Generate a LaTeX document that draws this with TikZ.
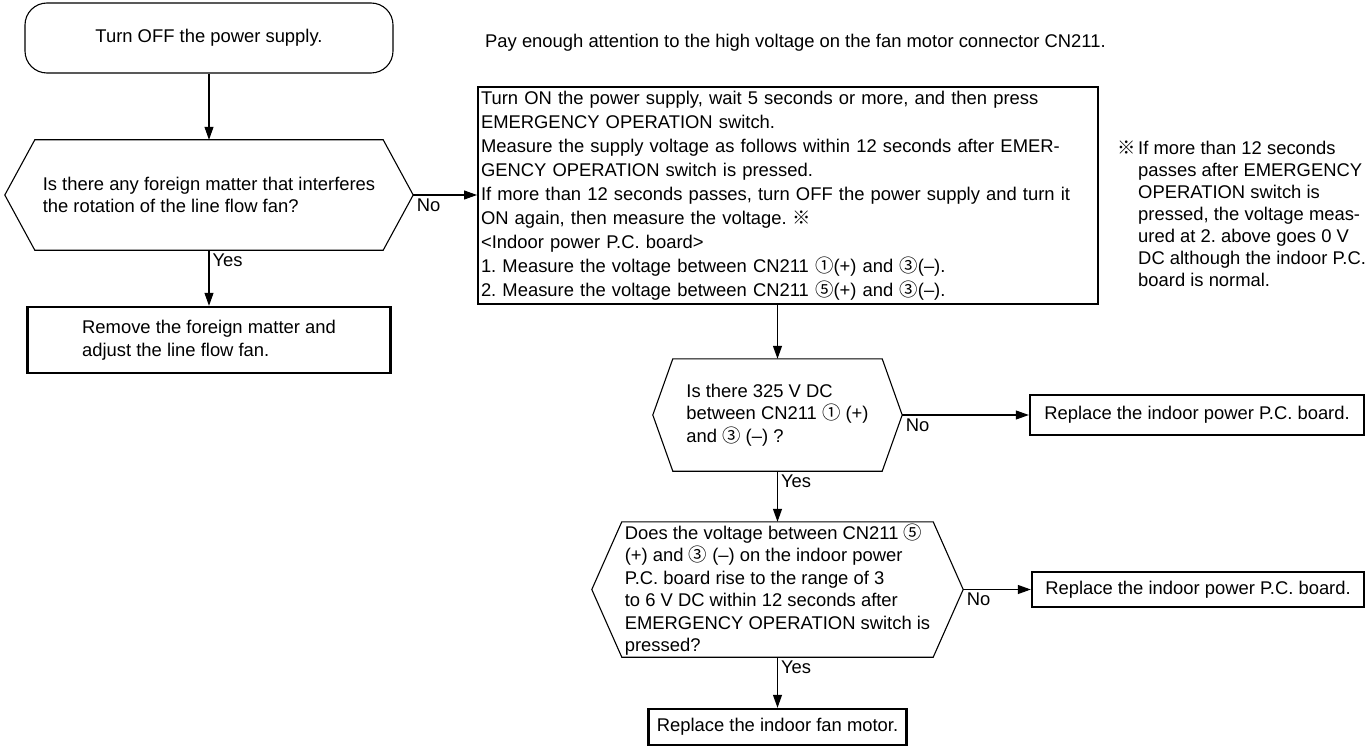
\documentclass[tikz,border=0pt]{standalone}
\usepackage{fontspec}
\setmainfont{Liberation Sans}
\newfontfamily\symb{Noto Sans CJK JP}
\usetikzlibrary{arrows.meta,positioning}
\frenchspacing
\newcommand{\cn}[1]{{\symb #1}}
% outline of a decision node
\newcommand{\hexout}[2]{\draw[line] (#1.west) -- ([xshift=#2pt]#1.north west) -- ([xshift=-#2pt]#1.north east) -- (#1.east) -- ([xshift=-#2pt]#1.south east) -- ([xshift=#2pt]#1.south west) -- cycle;}
\tikzset{
  every node/.style={font=\fontsize{18.4}{22.5}\selectfont},
  line/.style={line width=1.1pt},
  arr/.style={line, -{Triangle[length=13pt,width=9pt]}},
  term/.style={draw, line, rounded corners=22pt, minimum width=368pt, minimum height=70pt},
  dec/.style={align=left, inner sep=0pt},
  act/.style={draw, line width=2.4pt, align=left, inner sep=3pt},
  lab/.style={inner sep=3pt}
}
\begin{document}
\begin{tikzpicture}[x=1pt, y=-1pt]
\useasboundingbox (0,0) rectangle (1370,746);
% left column
\node[term] (start) at (209,38) {Turn OFF the power supply.};
\node[dec, minimum width=408pt, minimum height=110pt] (q1) at (209,195)
  {Is there any foreign matter that interferes\\the rotation of the line flow fan?};
\hexout{q1}{30}
\node[act, minimum width=363pt, minimum height=66pt] (fix) at (209,340)
  {Remove the foreign matter and\\adjust the line flow fan.};
% notes
\node[anchor=west, inner sep=0pt] (warn) at (485,43)
  {Pay enough attention to the high voltage on the fan motor connector CN211.};
\node[anchor=north west, inner sep=0pt, align=left,
  font=\fontsize{18.4}{22}\selectfont] (memo) at (1117,139)
  {\begin{tabular}{@{}p{21pt}@{}l@{}}
   \cn{※}&If more than 12 seconds\\
   &passes after EMERGENCY\\
   &OPERATION switch is\\
   &pressed, the voltage meas-\\
   &ured at 2. above goes 0 V\\
   &DC although the indoor P.C.\\
   &board is normal.
   \end{tabular}};
% measuring box
\node[act, line width=2pt, text width=614pt, minimum height=217pt,
  font=\fontsize{18.4}{24}\selectfont] (meas) at (788,195.5)
  {Turn ON the power supply, wait 5 seconds or more, and then press\\
   EMERGENCY OPERATION switch.\\
   Measure the supply voltage as follows within 12 seconds after EMER-\\
   GENCY OPERATION switch is pressed.\\
   If more than 12 seconds passes, turn OFF the power supply and turn it\\
   ON again, then measure the voltage. \cn{※}\\
   <Indoor power P.C. board>\\
   1. Measure the voltage between CN211 \cn{①}(+) and \cn{③}(–).\\
   2. Measure the voltage between CN211 \cn{⑤}(+) and \cn{③}(–).};
% right column
\node[dec, minimum width=249pt, minimum height=112pt] (q2) at (777.5,415)
  {Is there 325 V DC\\between CN211 \cn{①} (+)\\and \cn{③} (–) ?};
\hexout{q2}{20}
\node[dec, minimum width=371pt, minimum height=135pt] (q3) at (777.5,589.5)
  {Does the voltage between CN211 \cn{⑤}\\(+) and \cn{③} (–) on the indoor power\\P.C. board rise to the range of 3\\to 6 V DC within 12 seconds after\\EMERGENCY OPERATION switch is\\pressed?};
\hexout{q3}{30}
\node[act, minimum width=334pt, minimum height=40pt] (pcb1) at (1197,415)
  {Replace the indoor power P.C. board.};
\node[act, minimum width=332pt, minimum height=35pt] (pcb2) at (1198,589.5)
  {Replace the indoor power P.C. board.};
\node[act, minimum width=258pt, minimum height=36pt] (motor) at (777.5,727)
  {Replace the indoor fan motor.};
% connectors
\draw[arr] (start) -- (q1);
\draw[arr] (q1.south) node[lab, below right] {Yes} -- (fix);
\draw[arr] (q1.east) node[lab, below right] {No} -- (q1.east -| meas.west);
\draw[arr] (q2.north |- meas.south) -- (q2.north);
\draw[arr] (q2.east) node[lab, below right] {No} -- (pcb1);
\draw[arr] (q2.south) node[lab, below right] {Yes} -- (q3.north);
\draw[arr] (q3.east) node[lab, below right] {No} -- (pcb2);
\draw[arr] (q3.south) node[lab, below right] {Yes} -- (motor);
\end{tikzpicture}
\end{document}
